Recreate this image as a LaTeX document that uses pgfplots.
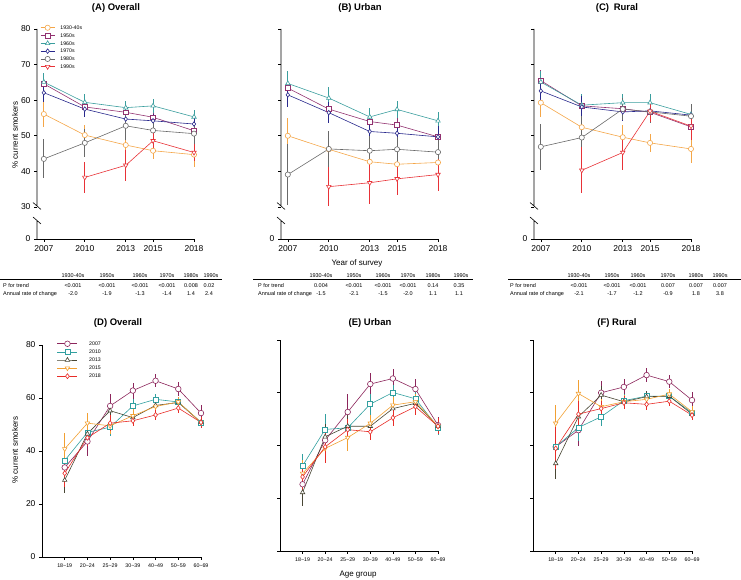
\documentclass[border=0pt]{standalone}
\usepackage{fontspec}
\setmainfont{Liberation Sans}
\usepackage{pgfplots}
\usepackage{pgfplotstable}
\pgfplotsset{compat=1.18}

\definecolor{c1930}{RGB}{244,166,72}
\definecolor{c1950}{RGB}{146,50,112}
\definecolor{c1960}{RGB}{58,158,158}
\definecolor{c1970}{RGB}{40,40,140}
\definecolor{c1980}{RGB}{105,105,105}
\definecolor{c1990}{RGB}{232,50,55}
\definecolor{c2007}{RGB}{140,38,92}
\definecolor{c2010}{RGB}{50,160,160}
\definecolor{c2013}{RGB}{72,70,52}
\definecolor{c2015}{RGB}{242,160,50}
\definecolor{c2018}{RGB}{232,45,40}

% birth cohorts by survey year (%), error = half CI
\pgfplotstableread{
yr   o    oe   p    pe   t    te   n    ne   g    ge   r    re
2007 56.1 3.5  64.6 3.0  65.1 2.5  62.1 2.5  43.5 5.5  nan  nan
2010 50.2 2.8  58.1 2.5  59.4 2.3  57.5 2.3  48.0 4.0  38.3 4.3
2013 47.4 3.8  56.6 2.5  57.9 2.0  54.7 2.0  52.8 4.0  41.7 4.3
2015 45.8 2.3  55.2 2.0  58.4 2.0  54.2 2.0  51.5 3.0  48.6 2.5
2018 44.7 3.5  51.4 2.5  55.3 2.0  53.3 2.0  50.6 3.0  45.3 2.5
}\tabA
\pgfplotstableread{
yr   o    oe   p    pe   t    te   n    ne   g    ge   r    re
2007 50.0 5.0  63.4 3.5  64.7 3.5  61.5 3.5  39.1 8.5  nan  nan
2010 46.2 4.5  57.5 3.0  60.6 3.0  56.5 3.0  46.3 5.0  35.7 5.5
2013 42.7 4.0  54.0 2.5  55.3 2.5  51.2 2.5  45.8 4.0  36.8 6.0
2015 42.0 3.0  53.0 2.5  57.4 2.5  50.7 2.5  46.2 3.5  37.9 4.5
2018 42.5 3.5  49.7 3.0  54.2 2.5  49.7 3.0  45.4 3.5  39.1 4.5
}\tabB
\pgfplotstableread{
yr   o    oe   p    pe   t    te   n    ne   g    ge   r    re
2007 59.3 4.0  65.5 3.0  65.1 3.0  62.6 3.0  46.9 6.5  nan  nan
2010 52.4 4.5  58.4 3.0  58.6 3.0  58.1 3.0  49.5 6.0  40.3 6.5
2013 49.6 3.5  57.6 2.5  59.3 2.5  56.7 2.5  57.5 3.0  45.3 5.0
2015 48.0 2.5  56.6 2.5  59.3 2.5  57.0 2.5  56.7 3.0  56.9 3.0
2018 46.3 4.0  52.5 3.0  56.0 2.5  55.8 2.5  55.5 3.5  52.7 4.0
}\tabC

% age groups (0 = 18~19 ... 6 = 60~69) by survey year
\pgfplotstableread{
x a    ae  b    be  c    ce  d    de  e    ee
0 33.8 6.0 36.4 3.0 29.0 5.0 40.8 6.0 31.6 5.0
1 43.6 5.5 47.0 3.0 46.5 3.0 50.5 4.0 45.0 3.0
2 57.0 4.5 49.0 3.5 55.2 3.0 49.5 3.0 50.5 3.0
3 62.8 3.0 57.0 2.5 52.6 2.5 53.3 2.5 51.4 2.0
4 66.5 2.5 59.5 2.0 57.2 2.0 56.8 2.0 53.6 2.0
5 63.4 2.5 58.5 2.0 58.3 2.0 58.5 2.0 56.2 2.0
6 54.3 3.0 50.8 2.0 50.8 2.0 50.8 2.0 50.8 2.0
}\tabD
\pgfplotstableread{
x a    ae  b    be  c    ce  d    de  e    ee
0 25.3 7.0 32.3 4.5 22.2 5.0 29.4 5.0 28.1 5.0
1 42.0 6.0 46.1 6.0 43.3 5.0 38.9 5.0 39.5 6.0
2 52.7 7.0 46.7 5.0 47.3 5.0 43.0 5.0 46.0 4.0
3 63.3 4.0 55.7 4.0 47.3 4.0 48.4 3.0 45.2 3.0
4 65.4 3.5 60.1 3.0 54.0 3.0 55.3 3.0 50.5 3.0
5 61.4 4.0 57.7 3.0 56.0 3.0 56.6 3.0 54.7 3.0
6 47.7 3.0 46.8 3.0 47.3 3.0 47.3 3.0 47.3 3.0
}\tabE
\pgfplotstableread{
x a    ae  b    be  c    ce  d    de  e    ee
0 39.5 6.0 39.5 5.0 33.2 6.0 48.4 7.0 38.9 8.0
1 45.8 6.0 46.8 5.0 50.9 5.0 59.7 5.0 51.9 5.0
2 60.0 4.5 50.9 3.5 59.1 3.5 54.7 3.0 54.0 3.0
3 62.2 3.0 57.0 2.5 56.6 2.5 56.6 2.5 56.2 2.5
4 66.7 2.5 58.7 2.0 58.5 2.0 57.5 2.0 55.6 2.0
5 64.2 2.5 58.7 2.0 58.7 2.0 59.5 2.0 56.8 2.0
6 57.2 3.0 52.4 2.0 51.9 2.0 52.8 2.0 51.5 2.0
}\tabF

\pgfplotsset{
  base/.style={scale only axis, anchor=south west, clip=false,
    axis x line=bottom, axis y line=left, axis line style={-, line width=0.6pt},
    tick align=outside, major tick length=3pt, tick style={black, line width=0.6pt},
    ticklabel style={font=\fontsize{8.5}{9}\selectfont},
    /pgf/number format/assume math mode=true,
    every axis plot/.append style={line width=0.6pt},
    error bars/error mark=none,
    error bars/error bar style={line width=0.7pt},
    legend cell align=left,
  },
  topax/.style={base, width=157pt, height=210pt,
    xmin=2006.5, xmax=2018, ymin=-9, ymax=50,
    xtick={2007,2010,2013,2015,2018}, xticklabels={2007,2010,2013,2015,2018},
    ytick={-9,0,10,20,30,40,50},
    y axis line style={draw=none}},
  botax/.style={base, xmin=-1, xmax=6, ymin=0, ymax=80,
    xtick={0,...,6},
    xticklabels={18\textasciitilde19,20\textasciitilde24,25\textasciitilde29,30\textasciitilde39,40\textasciitilde49,50\textasciitilde59,60\textasciitilde69},
    xticklabel style={font=\fontsize{5.3}{6}\selectfont},
    ytick={0,20,40,60,80}},
  s1930/.style={color=c1930, mark=*, mark size=2.6pt, mark options={fill=white}},
  s1950/.style={color=c1950, mark=square*, mark size=2.4pt, mark options={fill=white}},
  s1960/.style={color=c1960, mark=triangle*, mark size=2.6pt, mark options={fill=white}},
  s1970/.style={color=c1970, mark=diamond*, mark size=2.3pt, mark options={fill=white}},
  s1980/.style={color=c1980, mark=*, mark size=2.6pt, mark options={fill=white}},
  s1990/.style={color=c1990, mark=triangle*, mark size=2.6pt, mark options={fill=white, rotate=180}},
  s2007/.style={color=c2007, mark=*, mark size=2.8pt, mark options={fill=white}},
  s2010/.style={color=c2010, mark=square*, mark size=2.5pt, mark options={fill=white}},
  s2013/.style={color=c2013, mark=triangle*, mark size=2.6pt, mark options={fill=white}},
  s2015/.style={color=c2015, mark=triangle*, mark size=2.6pt, mark options={fill=white, rotate=180}},
  s2018/.style={color=c2018, mark=diamond*, mark size=2.5pt, mark options={fill=white}},
}

\newcommand{\cohorts}[1]{%
  \addplot[s1930, error bars/.cd, y dir=both, y explicit] table[x=yr, y expr=\thisrow{o}-30, y error=oe]{#1};
  \addplot[s1950, error bars/.cd, y dir=both, y explicit] table[x=yr, y expr=\thisrow{p}-30, y error=pe]{#1};
  \addplot[s1960, error bars/.cd, y dir=both, y explicit] table[x=yr, y expr=\thisrow{t}-30, y error=te]{#1};
  \addplot[s1970, error bars/.cd, y dir=both, y explicit] table[x=yr, y expr=\thisrow{n}-30, y error=ne]{#1};
  \addplot[s1980, error bars/.cd, y dir=both, y explicit] table[x=yr, y expr=\thisrow{g}-30, y error=ge]{#1};
  \addplot[s1990, error bars/.cd, y dir=both, y explicit] table[x=yr, y expr=\thisrow{r}-30, y error=re]{#1};
  \draw[line width=0.6pt] (axis cs:2006.5,50) -- (axis cs:2006.5,0.27)
    ([shift={(-4pt,3.5pt)}]axis cs:2006.5,0.27) -- ++(8pt,-7pt)
    ([shift={(-4pt,3.5pt)}]axis cs:2006.5,-3.8) -- ++(8pt,-7pt)
    (axis cs:2006.5,-3.8) -- (axis cs:2006.5,-9);
}
\newcommand{\ages}[1]{%
  \addplot[s2007, error bars/.cd, y dir=both, y explicit] table[x=x, y=a, y error=ae]{#1};
  \addplot[s2010, error bars/.cd, y dir=both, y explicit] table[x=x, y=b, y error=be]{#1};
  \addplot[s2013, error bars/.cd, y dir=both, y explicit] table[x=x, y=c, y error=ce]{#1};
  \addplot[s2015, error bars/.cd, y dir=both, y explicit] table[x=x, y=d, y error=de]{#1};
  \addplot[s2018, error bars/.cd, y dir=both, y explicit] table[x=x, y=e, y error=ee]{#1};
}

\begin{document}
\begin{tikzpicture}[x=1pt,y=1pt]
\path[use as bounding box] (0pt,0pt) rectangle (741pt,580pt);

% ---- top row: by survey year ----
\begin{axis}[topax, at={(37pt,341pt)}, yticklabels={0,30,40,50,60,70,80},
  legend style={at={(0.02,1.02)}, anchor=north west, draw=none, fill=none,
    font=\fontsize{5.2}{6}\selectfont, row sep=2.3pt, inner sep=0pt,
    nodes={inner sep=0.5pt, text height=4pt, text depth=0.5pt}},
  legend image code/.code={\draw[mark repeat=2, mark phase=2, #1] plot coordinates {(0pt,0pt) (7pt,0pt) (14pt,0pt)}; \path (19pt,0pt);}]
\cohorts{\tabA}
\legend{1930-40s,1950s,1960s,1970s,1980s,1990s}
\end{axis}
\begin{axis}[topax, at={(281pt,341pt)}, yticklabels={0,,,,,,}]
\cohorts{\tabB}
\end{axis}
\begin{axis}[topax, at={(534pt,341pt)}, yticklabels={0,,,,,,}]
\cohorts{\tabC}
\end{axis}

% ---- bottom row: by age group ----
\begin{axis}[botax, at={(42pt,23pt)}, width=159pt, height=212pt,
  legend style={at={(0.094,1.02)}, anchor=north west, draw=none, fill=none,
    font=\fontsize{5.2}{6}\selectfont, row sep=2.6pt, inner sep=0pt,
    nodes={inner sep=0.5pt, text height=4pt, text depth=0.5pt}},
  legend image code/.code={\draw[mark repeat=2, mark phase=2, #1] plot coordinates {(0pt,0pt) (10pt,0pt) (20pt,0pt)}; \path (31pt,0pt);}]
\ages{\tabD}
\legend{2007,2010,2013,2015,2018}
\end{axis}
\begin{axis}[botax, at={(280pt,29pt)}, width=158pt, height=211pt, yticklabels={}]
\ages{\tabE}
\end{axis}
\begin{axis}[botax, at={(533pt,29pt)}, width=159pt, height=211pt, yticklabels={}]
\ages{\tabF}
\end{axis}

% ---- titles and axis labels ----
\begin{scope}[every node/.style={font=\bfseries\fontsize{9.5}{11}\selectfont}]
\node at (116,572) {(A) Overall};
\node at (360,572) {(B) Urban};
\node at (617,572) {(C)\enspace Rural};
\node at (118,257) {(D) Overall};
\node at (370,257) {(E) Urban};
\node at (617,257) {(F) Rural};
\end{scope}
\begin{scope}[every node/.style={font=\fontsize{8}{9}\selectfont}]
\node[rotate=90] at (15,445) {\% current smokers};
\node[rotate=90] at (15,130) {\% current smokers};
\node at (357,317) {Year of survey};
\node at (358,5) {Age group};
\end{scope}

% ---- trend tables ----
\begin{scope}[every node/.style={font=\fontsize{5.5}{6.5}\selectfont, inner sep=0pt}]
\draw[line width=0.5pt] (0,301) -- (222,301);
\draw[line width=0.5pt] (253,301) -- (473,301);
\draw[line width=0.5pt] (508,301) -- (741,301);
\foreach \x/\t in {73/1930-40s,107/1950s,140/1960s,167/1970s,191/1980s,211/1990s,
                   321/1930-40s,354/1950s,383/1960s,408/1970s,433/1980s,461/1990s,
                   579/1930-40s,612/1950s,638/1960s,668/1970s,696/1980s,720/1990s}
  \node at (\x,304.5) {\t};
\foreach \x in {3,258,510} {
  \node[anchor=west] at (\x,294) {P for trend};
  \node[anchor=west] at (\x,286) {Annual rate of change};
}
\foreach \x/\t in {73/<0.001,107/<0.001,140/<0.001,167/<0.001,191/0.008,209/0.02,
                   321/0.004,354/<0.001,383/<0.001,408/<0.001,433/0.14,459/0.35,
                   579/<0.001,612/<0.001,638/<0.001,668/0.007,696/0.007,720/0.007}
  \node at (\x,294) {\t};
\foreach \x/\t in {73/-2.0,107/-1.9,140/-1.3,167/-1.4,191/1.4,209/2.4,
                   321/-1.5,354/-2.1,383/-1.5,408/-2.0,433/1.1,459/1.1,
                   579/-2.1,612/-1.7,638/-1.2,668/-0.9,696/1.8,720/3.8}
  \node at (\x,286) {\t};
\end{scope}
\end{tikzpicture}
\end{document}
